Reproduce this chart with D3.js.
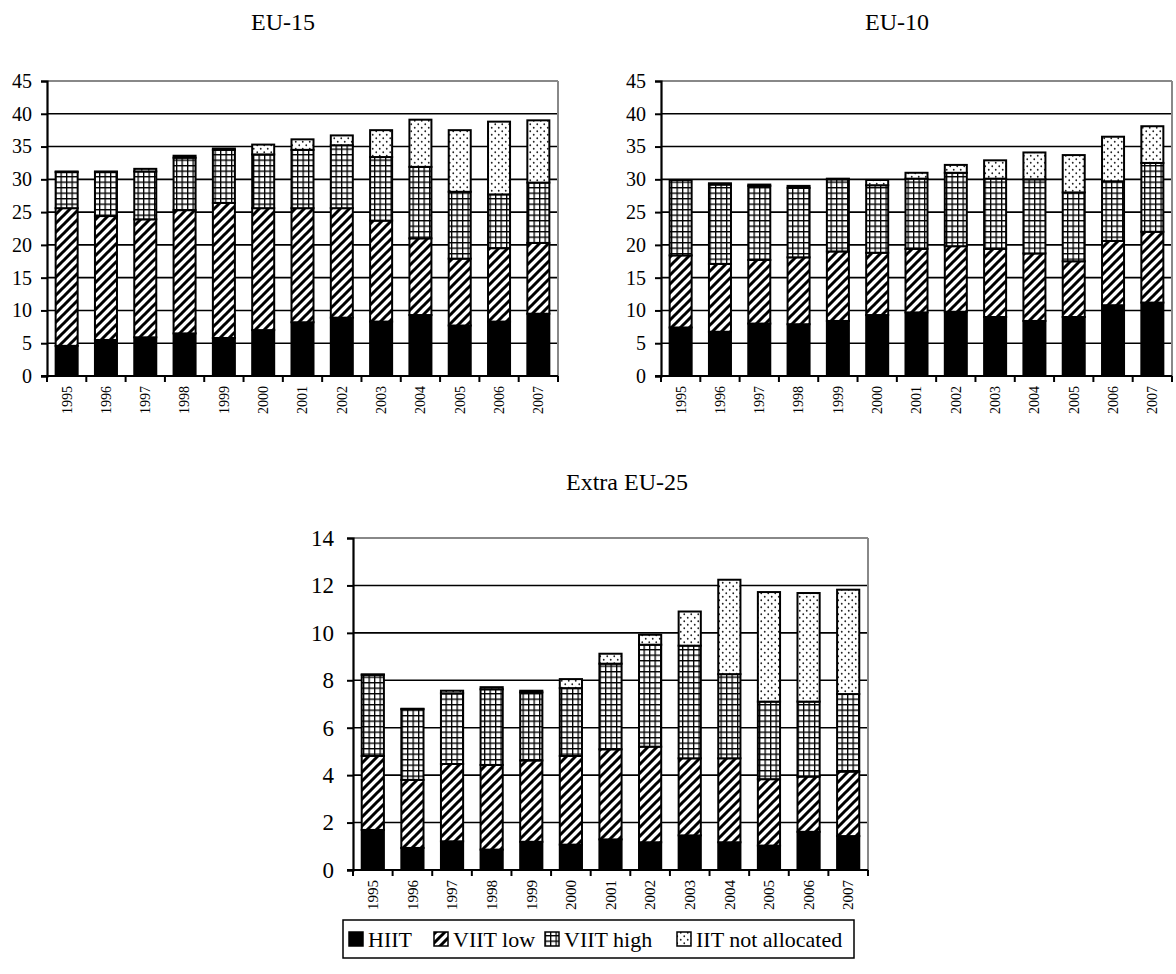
<!DOCTYPE html>
<html><head><meta charset="utf-8">
<script src="https://cdn.jsdelivr.net/npm/d3@7"></script>
<style>body{margin:0;background:#fff} svg{display:block} text{font-family:"Liberation Serif","Times New Roman",serif;fill:#000}</style>
</head><body><svg id="c" width="1176" height="974"></svg>
<script>
// ---- data ----
const years = ["1995","1996","1997","1998","1999","2000","2001","2002","2003","2004","2005","2006","2007"];
const seriesNames = ["HIIT","VIIT low","VIIT high","IIT not allocated"];

const eu15Hiit    = [4.6, 5.5, 5.9, 6.5, 5.8, 7.0, 8.2, 8.9, 8.3, 9.3, 7.7, 8.3, 9.5];
const eu15ViitLow = [21.0,18.9,18.0,18.8,20.6,18.6,17.4,16.7,15.4,11.7,10.2,11.2,10.8];
const eu15ViitHigh= [5.5, 6.7, 7.3, 8.0, 8.1, 8.2, 8.9, 9.6, 9.7,10.9,10.2, 8.2, 9.2];
const eu15NotAll  = [0.1, 0.1, 0.4, 0.3, 0.2, 1.5, 1.6, 1.5, 4.1, 7.2, 9.4,11.1, 9.5];

const eu10Hiit    = [7.4, 6.75,8.0, 7.9, 8.4, 9.3, 9.7, 9.8, 9.0, 8.4, 9.0,10.8,11.2];
const eu10ViitLow = [11.0,10.35,9.7,10.2,10.6,9.5, 9.7,10.0,10.4,10.3, 8.5, 9.8,10.8];
const eu10ViitHigh= [11.5,12.1,11.3,10.6,11.0,10.3,10.7,11.2,10.7,11.3,10.5, 9.1,10.5];
const eu10NotAll  = [0.0, 0.2, 0.2, 0.3, 0.1, 0.8, 0.9, 1.2, 2.8, 4.1, 5.7, 6.8, 5.6];

const extHiit     = [1.69,0.93,1.21,0.86,1.19,1.07,1.29,1.17,1.46,1.17,1.03,1.61,1.43];
const extViitLow  = [3.12,2.87,3.26,3.57,3.43,3.74,3.80,4.03,3.25,3.54,2.80,2.33,2.72];
const extViitHigh = [3.42,2.98,2.98,3.19,2.87,2.86,3.61,4.30,4.75,3.55,3.27,3.16,3.27];
const extNotAll   = [0.02,0.02,0.11,0.09,0.07,0.38,0.42,0.42,1.44,3.98,4.62,4.58,4.40];

const eu15Ticks = [0,5,10,15,20,25,30,35,40,45];
const eu10Ticks = [0,5,10,15,20,25,30,35,40,45];
const extTicks  = [0,2,4,6,8,10,12,14];

const titles = ["EU-15","EU-10","Extra EU-25"];

// ---- drawing ----
const svg = d3.select("#c");
const defs = svg.append("defs");
const ps = defs.append("pattern").attr("id","pStripe").attr("patternUnits","userSpaceOnUse").attr("width",9).attr("height",9);
ps.append("rect").attr("width",9).attr("height",9).attr("fill","#fff");
ps.append("path").attr("d","M-2,2 L2,-2 M0,9 L9,0 M7,11 L11,7").attr("stroke","#000").attr("stroke-width",3);
const pg = defs.append("pattern").attr("id","pGrid").attr("patternUnits","userSpaceOnUse").attr("width",5.5).attr("height",5.5);
pg.append("rect").attr("width",5.5).attr("height",5.5).attr("fill","#fff");
pg.append("path").attr("d","M0,0.65 H5.5 M0.65,0 V5.5").attr("stroke","#000").attr("stroke-width",1.3);
const pd = defs.append("pattern").attr("id","pDots").attr("patternUnits","userSpaceOnUse").attr("width",7).attr("height",7);
pd.append("rect").attr("width",7).attr("height",7).attr("fill","#fff");
pd.append("circle").attr("cx",1.75).attr("cy",1.75).attr("r",0.9).attr("fill","#222");
pd.append("circle").attr("cx",5.25).attr("cy",5.25).attr("r",0.9).attr("fill","#222");
const fills = ["#000","url(#pStripe)","url(#pGrid)","url(#pDots)"];

function panel(cfg){
  const {x0,x1,y0,y1,ticks,series,title,titleX,titleY,tickFont,tickPad,yearFont} = cfg;
  const x = d3.scaleBand().domain(years).range([x0,x1]).paddingInner(0.44).paddingOuter(0.22);
  const y = d3.scaleLinear().domain([0,d3.max(ticks)]).range([y0,y1]);
  const g = svg.append("g");
  svg.append("text").attr("x",titleX).attr("y",titleY).attr("text-anchor","middle").attr("font-size",24).text(title);
  g.selectAll("line.grid").data(ticks.filter(t=>t>0)).join("line")
    .attr("x1",x0).attr("x2",x1).attr("y1",d=>y(d)).attr("y2",d=>y(d))
    .attr("stroke",d=>d===d3.max(ticks)?"#888":"#000").attr("stroke-width",d=>d===d3.max(ticks)?2:1.6);
  g.append("line").attr("x1",x1).attr("x2",x1).attr("y1",y1).attr("y2",y0).attr("stroke","#888").attr("stroke-width",2);
  const rows = years.map((yr,i)=>{const o={year:yr}; seriesNames.forEach((s,k)=>o[s]=series[k][i]); return o;});
  const stack = d3.stack().keys(seriesNames)(rows);
  stack.forEach((layer,k)=>{
    g.append("g").selectAll("rect").data(layer).join("rect")
      .attr("x",d=>x(d.data.year)).attr("width",x.bandwidth())
      .attr("y",d=>y(d[1])).attr("height",d=>Math.max(0,y(d[0])-y(d[1])))
      .attr("fill",fills[k]).attr("stroke","#000").attr("stroke-width",2);
  });
  const ya = d3.axisLeft(y).tickValues(ticks).tickSize(6).tickPadding(tickPad).tickFormat(d3.format("d"));
  const yg = svg.append("g").attr("transform",`translate(${x0},0)`).call(ya);
  yg.select(".domain").attr("stroke","#000").attr("stroke-width",2.2);
  yg.selectAll(".tick line").attr("stroke","#000").attr("stroke-width",2);
  yg.selectAll(".tick text").attr("font-size",tickFont).attr("font-family","Liberation Serif");
  const step = x.step();
  svg.append("line").attr("x1",x0-6).attr("x2",x1).attr("y1",y0).attr("y2",y0).attr("stroke","#000").attr("stroke-width",2.2);
  svg.append("g").selectAll("line").data(d3.range(years.length+1)).join("line")
    .attr("x1",i=>x0+i*step).attr("x2",i=>x0+i*step).attr("y1",y0).attr("y2",y0+6)
    .attr("stroke","#000").attr("stroke-width",2);
  svg.append("g").selectAll("text").data(years).join("text")
    .attr("transform",d=>`translate(${x(d)+x.bandwidth()/2+yearFont*0.35},${y0+10}) rotate(-90)`)
    .attr("text-anchor","end").attr("font-size",yearFont).text(d=>d);
}

panel({x0:47,x1:558,y0:376,y1:81,ticks:eu15Ticks,series:[eu15Hiit,eu15ViitLow,eu15ViitHigh,eu15NotAll],
  title:titles[0],titleX:283,titleY:30,tickFont:20,tickPad:9,yearFont:14});
panel({x0:661,x1:1172,y0:376,y1:81,ticks:eu10Ticks,series:[eu10Hiit,eu10ViitLow,eu10ViitHigh,eu10NotAll],
  title:titles[1],titleX:897,titleY:30,tickFont:20,tickPad:9,yearFont:14});
panel({x0:353,x1:868,y0:870,y1:538,ticks:extTicks,series:[extHiit,extViitLow,extViitHigh,extNotAll],
  title:titles[2],titleX:627,titleY:490,tickFont:23,tickPad:13,yearFont:15});

// legend
const lg = svg.append("g");
const lx0 = 343, lx1 = 854, ly0 = 920, ly1 = 958, lcy = (ly0+ly1)/2;
lg.append("rect").attr("x",lx0).attr("y",ly0).attr("width",lx1-lx0).attr("height",ly1-ly0).attr("fill","#fff").attr("stroke","#000").attr("stroke-width",1.5);
const iconX = [349,434,545,677];
seriesNames.forEach((s,k)=>{
  lg.append("rect").attr("x",iconX[k]).attr("y",lcy-7).attr("width",14).attr("height",14)
    .attr("fill",fills[k]).attr("stroke","#000").attr("stroke-width",1.5);
  lg.append("text").attr("x",iconX[k]+19).attr("y",lcy+7.5).attr("font-size",22).text(s);
});
</script></body></html>
